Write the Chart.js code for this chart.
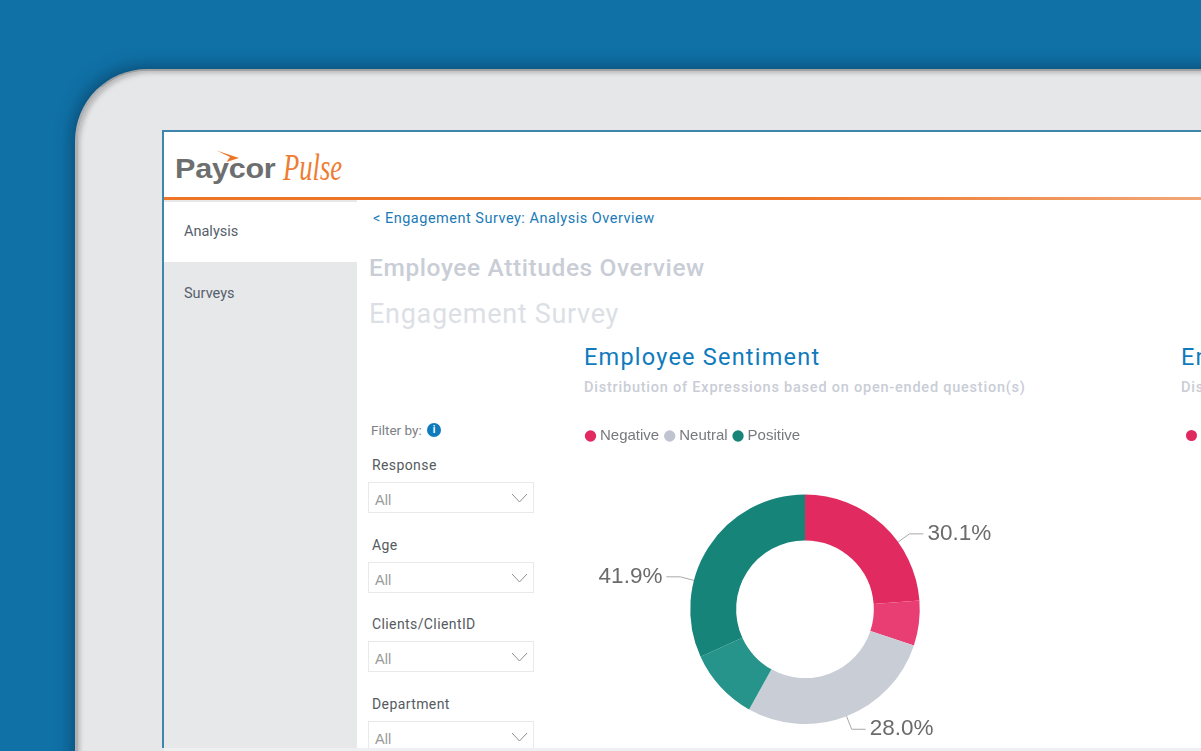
<!DOCTYPE html>
<html lang="en">
<head>
<meta charset="UTF-8">
<title>Employee Sentiment</title>
<script src="https://cdn.jsdelivr.net/npm/chart.js@4"></script>
<style>
    html, body { margin: 0; padding: 0; width: 1201px; height: 751px; overflow: hidden; }
    body { background: #1071a6; font-family: 'Roboto', sans-serif; position: relative; }
    div, span, svg, canvas { position: absolute; white-space: nowrap; }
    .bezel { left: 75px; top: 69px; width: 1300px; height: 900px; background: #e6e7e9; border-radius: 72px 0 0 0;
             border-top: 2px solid #9fa1a3; border-left: 3px solid #aeb0b2; box-sizing: border-box;
             box-shadow: -3px -3px 16px rgba(5, 50, 80, .55), inset 4px 4px 4px -2px rgba(130, 130, 130, .45); }
    .screen { left: 162px; top: 130px; width: 1100px; height: 618px; background: #fff; border: 2px solid #3f86ad; border-right: 0; border-bottom: 0; box-sizing: border-box; }
    .rule { left: 164px; top: 197px; width: 1037px; height: 3px; background: linear-gradient(to right, #ee7526 0%, #ee7526 60%, #f2a777 100%); }
    .side { left: 164px; top: 200px; width: 193px; height: 548px; background: #e7e8ea; }
    .tab { left: 164px; top: 202px; width: 193px; height: 60px; background: #fff; }
    .foot { left: 164px; top: 748px; width: 1037px; height: 3px; background: #eeeff0; }
    .nav { left: 184px; font-size: 14.5px; color: #56606a; }
    .crumb { left: 373px; top: 210px; font-size: 14.5px; color: #1b7ab8; letter-spacing: .5px; }
    .h1 { left: 369px; top: 253px; font-size: 24.5px; font-weight: 500; color: #c9cdd6; letter-spacing: .6px; }
    .h2 { left: 369px; top: 298px; font-size: 27px; color: #dcdfe5; letter-spacing: .7px; }
    .title { font-size: 23.5px; color: #0f7bbd; letter-spacing: 1.22px; top: 343px; }
    .sub { font-size: 14.5px; font-weight: 500; color: #c9cdd6; letter-spacing: .78px; top: 379px; }
    .filter { left: 371px; top: 422px; font-size: 13.5px; color: #7c8085; }
    .info { left: 427px; top: 423px; width: 14px; height: 14px; border-radius: 50%; background: #0f7bbd; color: #fff; font-size: 10px; font-weight: 700; text-align: center; line-height: 14px; }
    .lab { left: 372px; font-size: 14px; color: #555b60; letter-spacing: .4px; }
    .box { left: 368px; width: 166px; height: 31px; border: 1px solid #e9e9ea; box-sizing: border-box; }
    .all { left: 375px; font-size: 14.5px; color: #9a9a9a; font-family: 'Liberation Sans', sans-serif; }
    #chartWrap { left: 580px; top: 420px; width: 450px; height: 331px; }
</style>
</head>
<body>
    <div class="bezel"></div>
    <div class="screen"></div>

    <!-- logo -->
    <div style="left:175px;top:153px;font:700 28px 'Liberation Sans';color:#6d6e70;letter-spacing:-.2px;transform:scaleX(1.09);transform-origin:left;">Paycor</div>
    <svg style="left:214px;top:149px;" width="28" height="16"><polygon points="2.5,1.5 25,9 12.5,13 16,8" fill="#ee7526"/></svg>
    <div style="left:283px;top:145px;font:italic 38px 'Liberation Serif';color:#ee7d33;transform:scaleX(.7);transform-origin:left;">Pulse</div>

    <div class="rule"></div>
    <div class="side"></div>
    <div class="tab"></div>
    <div class="nav" style="top:223px;">Analysis</div>
    <div class="nav" style="top:285px;">Surveys</div>

    <div class="crumb">&lt; Engagement Survey: Analysis Overview</div>
    <div class="h1">Employee Attitudes Overview</div>
    <div class="h2">Engagement Survey</div>

    <div class="title" style="left:584px;">Employee Sentiment</div>
    <div class="sub" style="left:584px;">Distribution of Expressions based on open-ended question(s)</div>
    <div class="title" style="left:1181px;">En</div>
    <div class="sub" style="left:1181px;">Dis</div>
    <div style="left:1186px;top:430px;width:11px;height:11px;border-radius:50%;background:#e0295f;"></div>

    <div class="filter">Filter by:</div>
    <div class="info">i</div>
    <div id="filters"></div>

    <div id="chartWrap"><canvas id="sentimentChart" width="450" height="331"></canvas></div>
    <div class="foot"></div>

    <script>
        // slices, clockwise from the top
        const sliceNames = ['Negative', 'Negative (light)', 'Neutral', 'Positive (light)', 'Positive'];
        const sliceValues = [23.8, 6.3, 28.0, 10.1, 31.8];
        const sliceColors = ['#e02a60', '#e93e74', '#c9cdd6', '#26948b', '#17847a'];

        // legend entries and the labelled groups of slices
        const legendNames = ['Negative', 'Neutral', 'Positive'];
        const legendColors = ['#e02a60', '#c0c4d0', '#17847a'];
        const groupLabels = ['30.1%', '28.0%', '41.9%'];
        const groupSlices = [[0, 1], [2, 2], [3, 4]];

        const filterNames = ['Response', 'Age', 'Clients/ClientID', 'Department'];
        const filterTops = [457, 537, 616, 696];

        const filters = document.getElementById('filters');
        filterNames.forEach((name, i) => {
            const y = filterTops[i];
            filters.insertAdjacentHTML('beforeend', `
                <div class="lab" style="top:${y}px;">${name}</div>
                <div class="box" style="top:${y + 25}px;"></div>
                <div class="all" style="top:${y + 35}px;">All</div>
                <svg style="left:511px;top:${y + 36}px;" width="17" height="11"><polyline points="1,1 8.5,9 16,1" fill="none" stroke="#8c9094" stroke-width="1"/></svg>
            `);
        });

        // keeps a gap between the legend row and the ring
        const legendGap = {
            id: 'legendGap',
            beforeInit(chart) {
                const fit = chart.legend.fit;
                chart.legend.fit = function () {
                    fit.call(this);
                    this.height += 41;
                };
            }
        };

        // leader lines and percentage labels for the slice groups
        const leaderLabels = {
            id: 'leaderLabels',
            afterDatasetsDraw(chart) {
                const ctx = chart.ctx;
                const arcs = chart.getDatasetMeta(0).data;
                ctx.save();
                ctx.font = "22.5px 'Liberation Sans'";
                ctx.textBaseline = 'middle';
                groupLabels.forEach((label, i) => {
                    const first = arcs[groupSlices[i][0]];
                    const last = arcs[groupSlices[i][1]];
                    const mid = (first.startAngle + last.endAngle) / 2;
                    const r = first.outerRadius;
                    const x0 = first.x + Math.cos(mid) * r;
                    const y0 = first.y + Math.sin(mid) * r;
                    const x1 = first.x + Math.cos(mid) * (r + 14);
                    const y1 = first.y + Math.sin(mid) * (r + 14);
                    const dir = Math.cos(mid) >= 0 ? 1 : -1;
                    const x2 = x1 + dir * 14;
                    ctx.strokeStyle = '#a8a8a8';
                    ctx.lineWidth = 1;
                    ctx.beginPath();
                    ctx.moveTo(x0, y0);
                    ctx.lineTo(x1, y1);
                    ctx.lineTo(x2, y1);
                    ctx.stroke();
                    ctx.fillStyle = '#6b6b6b';
                    ctx.textAlign = dir > 0 ? 'left' : 'right';
                    ctx.fillText(label, x2 + dir * 4, y1);
                });
                ctx.restore();
            }
        };

        new Chart(document.getElementById('sentimentChart').getContext('2d'), {
            type: 'doughnut',
            data: {
                labels: sliceNames,
                datasets: [{ data: sliceValues, backgroundColor: sliceColors, borderWidth: 0 }]
            },
            plugins: [legendGap, leaderLabels],
            options: {
                responsive: false,
                animation: false,
                cutout: '60%',
                layout: { padding: { bottom: 27 } },
                plugins: {
                    tooltip: { enabled: false },
                    legend: {
                        position: 'top',
                        align: 'start',
                        onClick: null,
                        labels: {
                            usePointStyle: true,
                            boxWidth: 4,
                            boxHeight: 8,
                            padding: 8.5,
                            font: { family: "'Liberation Sans'", size: 15 },
                            generateLabels: () => legendNames.map((name, i) => ({
                                text: name,
                                fillStyle: legendColors[i],
                                strokeStyle: legendColors[i],
                                fontColor: '#77797c',
                                lineWidth: 0,
                                pointStyle: 'circle'
                            }))
                        }
                    }
                }
            }
        });
    </script>
</body>
</html>
